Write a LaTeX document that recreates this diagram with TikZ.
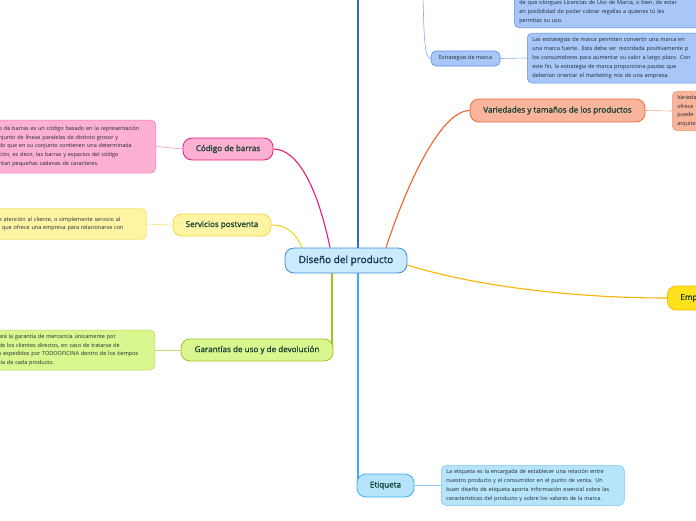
\documentclass[tikz,border=0pt]{standalone}
\usepackage{fontspec}
\setmainfont{Open Sans}
\newfontfamily\semib{Open Sans}[FakeBold=0.6]
\usepackage{tikz}
\usetikzlibrary{positioning, backgrounds}

\definecolor{ctrfill}{HTML}{C9EBFB}
\definecolor{ctredge}{HTML}{3D8DD8}
\definecolor{ctrtext}{HTML}{10284A}
\definecolor{toptext}{HTML}{0E3B2E}
\definecolor{notetext}{HTML}{1E2A33}
\definecolor{topblue}{HTML}{2F6BD2}
\definecolor{markline}{HTML}{7FA9F2}
\definecolor{markfill}{HTML}{A8C6F8}
\definecolor{markedge}{HTML}{5C8EEA}
\definecolor{varline}{HTML}{F2602A}
\definecolor{varfill}{HTML}{F8B59B}
\definecolor{varedge}{HTML}{EF6A40}
\definecolor{empline}{HTML}{F8B400}
\definecolor{empfill}{HTML}{FFE21C}
\definecolor{empedge}{HTML}{F4B800}
\definecolor{codline}{HTML}{EE1A72}
\definecolor{codfill}{HTML}{FDB0D1}
\definecolor{codedge}{HTML}{E9207A}
\definecolor{serline}{HTML}{F2D81E}
\definecolor{serfill}{HTML}{FFF4A4}
\definecolor{seredge}{HTML}{F0D842}
\definecolor{garline}{HTML}{9CC61E}
\definecolor{garfill}{HTML}{DAF68F}
\definecolor{garedge}{HTML}{9CC61E}
\definecolor{etiline}{HTML}{3AAEEF}
\definecolor{etifill}{HTML}{B6E4FA}
\definecolor{etiedge}{HTML}{3AAEEF}

\begin{document}
\begin{tikzpicture}[x=1pt, y=-1pt,
  topic/.style={draw, rounded corners=9pt, line width=0.8pt, text=toptext, font=\semib\fontsize{8.1}{9}\selectfont, inner sep=0pt, minimum height=23pt},
  note/.style={draw, rounded corners=5pt, line width=0.5pt, text=notetext, font=\fontsize{5.5}{8.8}\selectfont, align=left, inner xsep=5pt, inner ysep=4pt},
  branch/.style={line width=1.1pt},
  leaf/.style={line width=0.6pt}]

 \useasboundingbox (0,0) rectangle (696,520);
 \clip (0,0) rectangle (696,520);

 % central topic
 \node[topic, fill=ctrfill, draw=ctredge, text=ctrtext, minimum width=122pt, minimum height=25pt, font=\semib\fontsize{10}{11}\selectfont] (diseno) at (346,260.5) {Diseño del producto};

 % main topics
 \node[topic, fill=varfill, draw=varedge, minimum width=175pt] (variedades) at (557.5,110.5) {Variedades y tamaños de los productos};
 \node[topic, fill=empfill, draw=empedge, anchor=west, text width=47pt, inner xsep=13pt, align=left, minimum height=24pt] (emp) at (667,298) {Emp};
 \node[topic, fill=codfill, draw=codedge, minimum width=90pt, minimum height=22pt] (codigo) at (228,149) {Código de barras};
 \node[topic, fill=serfill, draw=seredge, minimum width=98pt, minimum height=22pt] (servicios) at (222,225) {Servicios postventa};
 \node[topic, fill=garfill, draw=garedge, minimum width=152pt, minimum height=22pt] (garantias) at (257,350) {Garantías de uso y de devolución};
 \node[topic, fill=etifill, draw=etiedge, minimum width=57pt] (etiqueta) at (385.5,485.5) {Etiqueta};
 \node[topic, fill=markfill, draw=markedge, rounded corners=5pt, line width=0.6pt, minimum width=69pt, minimum height=15pt, text=notetext, font=\fontsize{5.5}{6}\selectfont] (estrategias) at (465.5,58.5) {Estrategias de marca};

 % notes
 \node[note, fill=markfill, draw=markedge, anchor=south west, text width=190pt] (licnote) at (514,28) {de que otorgues Licencias de Uso de Marca, o bien, de estar\\en posibilidad de poder cobrar regalías a quienes tú les\\permitas su uso.};
 \node[note, fill=markfill, draw=markedge, anchor=west, text width=190pt, minimum height=50pt] (marknote) at (527,58) {Las estrategias de marca permiten convertir una marca en\\una marca fuerte. Esta debe ser recordada positivamente p\\los consumidores para aumentar su valor a largo plazo. Con\\este fin, la estrategia de marca proporciona pautas que\\deberían orientar el marketing mix de una empresa.};
 \node[note, fill=varfill, draw=varedge!70, anchor=west, text width=60pt, minimum height=38pt] (varnote) at (672,111) {Varieda\\ofrece\\puede\\arquite};
 \node[note, fill=codfill, draw=codedge!60, anchor=east, text width=152pt, minimum height=53pt] (codnote) at (156,146.5) {o de barras es un código basado en la representación\\njunto de líneas paralelas de distinto grosor y\\do que en su conjunto contienen una determinada\\ción, es decir, las barras y espacios del código\\ntan pequeñas cadenas de caracteres.};
 \node[note, fill=serfill, draw=seredge!70, anchor=east, text width=143pt, minimum height=31pt] (sernote) at (147,224) {e atención al cliente, o simplemente servicio al\\l que ofrece una empresa para relacionarse con};
 \node[note, fill=garfill, draw=garedge!70, anchor=east, text width=151pt, minimum height=40pt] (garnote) at (155,350) {ará la garantía de mercancía únicamente por\\de los clientes directos, en caso de tratarse de\\s expedidos por TODOOFICINA dentro de los tiempos\\tía de cada producto.};
 \node[note, fill=etifill, draw=etiedge!70, anchor=west, text width=173pt, minimum height=40pt] (etinote) at (441,485.5) {La etiqueta es la encargada de establecer una relación entre\\nuestro producto y el consumidor en el punto de venta. Un\\buen diseño de etiqueta aporta información esencial sobre las\\características del producto y sobre los valores de la marca.};

 \coordinate (topout) at (358,-5);
 \coordinate (markout) at (423,-5);

 % connectors
 \begin{scope}[on background layer]
  \draw[branch, topblue] ([xshift=12pt]diseno.north) -- (topout);
  \draw[branch, codline] ([xshift=-16pt]diseno.north) .. controls +(-12,-58) and +(25,0) .. (codigo.east);
  \draw[branch, serline] ([xshift=-44pt]diseno.north) .. controls +(-6,-14) and +(16,0) .. (servicios.east);
  \draw[branch, varline] ([xshift=40pt]diseno.north) .. controls +(19,-58) and +(-30,0) .. (variedades.west);
  \draw[branch, empline] ([yshift=-4.5pt]diseno.east) .. controls +(70,22) and +(-90,0) .. (emp.west);
  \draw[branch, garline] ([xshift=-14pt]diseno.south) |- (garantias.east);
  \draw[branch, etiline] ([xshift=12pt]diseno.south) |- (etiqueta.west);
  \draw[leaf, markline] (markout) .. controls +(1,45) and +(-6,0) .. (estrategias.west);
  \draw[leaf, markline] (estrategias.east) -- (marknote.west);
  \draw[leaf, varedge!60] (variedades.east) -- (varnote.west);
  \draw[leaf, codedge!50] (codigo.west) -- (codnote.east);
  \draw[leaf, seredge!70] (servicios.west) -- (sernote.east);
  \draw[leaf, garedge!60] (garantias.west) -- (garnote.east);
  \draw[leaf, etiedge!60] (etiqueta.east) -- (etinote.west);
 \end{scope}
\end{tikzpicture}
\end{document}
